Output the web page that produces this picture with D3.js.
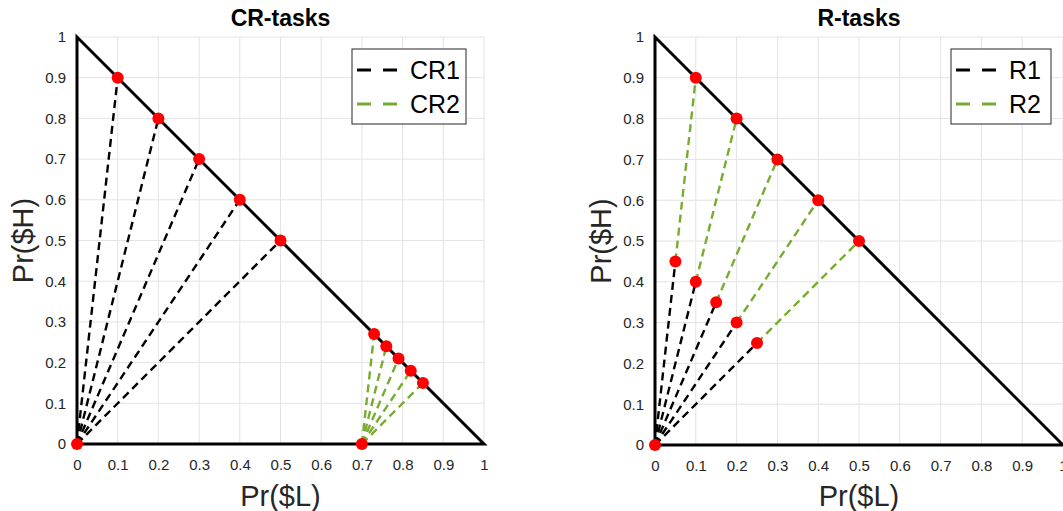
<!DOCTYPE html>
<html>
<head>
<meta charset="utf-8">
<script src="https://cdn.jsdelivr.net/npm/d3@7"></script>
<style>
  html, body { margin: 0; padding: 0; background: #fff; overflow: hidden; }
  svg { display: block; font-family: "Liberation Sans", Arial, sans-serif; }
  .tick text { font-size: 15px; }
</style>
</head>
<body>
<svg id="chart" width="1063" height="511"></svg>
<script>
// ---- data -------------------------------------------------------------
const tickValues = [0, 0.1, 0.2, 0.3, 0.4, 0.5, 0.6, 0.7, 0.8, 0.9, 1];
const tickLabels = ["0", "0.1", "0.2", "0.3", "0.4", "0.5", "0.6", "0.7", "0.8", "0.9", "1"];

// simplex boundary: (0,0) -> (0,1) -> (1,0) -> (0,0)
const simplexL = [0, 0, 1, 0];
const simplexH = [0, 1, 0, 0];

// CR-tasks
const crSafeL  = [0.1, 0.2, 0.3, 0.4, 0.5];
const crSafeH  = [0.9, 0.8, 0.7, 0.6, 0.5];
const cr1OriginL = 0, cr1OriginH = 0;
const cr2OriginL = 0.7, cr2OriginH = 0;
const cr2EndL  = [0.73, 0.76, 0.79, 0.82, 0.85];
const cr2EndH  = [0.27, 0.24, 0.21, 0.18, 0.15];

// R-tasks
const rTopL = [0.1, 0.2, 0.3, 0.4, 0.5];
const rTopH = [0.9, 0.8, 0.7, 0.6, 0.5];
const rMidL = [0.05, 0.10, 0.15, 0.20, 0.25];
const rMidH = [0.45, 0.40, 0.35, 0.30, 0.25];
const r1OriginL = 0, r1OriginH = 0;

const seriesNames = { cr: ["CR1", "CR2"], r: ["R1", "R2"] };
const titles = ["CR-tasks", "R-tasks"];

// ---- styling ----------------------------------------------------------
const BLACK = "#000000";
const GREEN = "#77AC30";
const RED = "#FF0000";
const GRID = "#e3e3e3";
const TICK_TEXT = "#262626";
const DASH = "8,5";

const svg = d3.select("#chart");

function panel(opts) {
  const g = svg.append("g");
  const x = d3.scaleLinear().domain([0, 1]).range([opts.left, opts.left + opts.size]);
  const y = d3.scaleLinear().domain([0, 1]).range([opts.top + opts.size, opts.top]);

  // grid
  g.append("g").selectAll("line").data(tickValues).join("line")
    .attr("x1", d => x(d)).attr("x2", d => x(d))
    .attr("y1", y(0)).attr("y2", y(1))
    .attr("stroke", GRID).attr("stroke-width", 1);
  g.append("g").selectAll("line").data(tickValues).join("line")
    .attr("y1", d => y(d)).attr("y2", d => y(d))
    .attr("x1", x(0)).attr("x2", x(1))
    .attr("stroke", GRID).attr("stroke-width", 1);

  // axes (labels only, the simplex edges act as axis lines)
  const fmt = d => tickLabels[tickValues.indexOf(d)];
  const xAxis = g.append("g").attr("transform", `translate(0,${y(0)})`)
    .call(d3.axisBottom(x).tickValues(tickValues).tickFormat(fmt).tickSize(0).tickPadding(15));
  const yAxis = g.append("g").attr("transform", `translate(${x(0)},0)`)
    .call(d3.axisLeft(y).tickValues(tickValues).tickFormat(fmt).tickSize(0).tickPadding(11));
  [xAxis, yAxis].forEach(a => {
    a.attr("font-size", 15).attr("font-family", "'Liberation Sans', Arial, sans-serif");
    a.select(".domain").remove();
    a.selectAll("text").attr("fill", TICK_TEXT);
  });

  // simplex triangle
  const line = d3.line().x(d => x(d[0])).y(d => y(d[1]));
  g.append("path")
    .attr("d", line(simplexL.map((v, i) => [v, simplexH[i]])))
    .attr("fill", "none").attr("stroke", BLACK).attr("stroke-width", 3)
    .attr("stroke-linejoin", "miter");

  // dashed segments
  opts.segments.forEach(s => {
    g.append("line")
      .attr("x1", x(s.from[0])).attr("y1", y(s.from[1]))
      .attr("x2", x(s.to[0])).attr("y2", y(s.to[1]))
      .attr("stroke", s.color).attr("stroke-width", 2.4)
      .attr("stroke-dasharray", DASH);
  });

  // points
  g.append("g").selectAll("circle").data(opts.points).join("circle")
    .attr("cx", d => x(d[0])).attr("cy", d => y(d[1])).attr("r", 6)
    .attr("fill", RED);

  // title
  g.append("text").attr("x", (x(0) + x(1)) / 2).attr("y", 26)
    .attr("text-anchor", "middle").style("font-weight", "bold").style("font-size", "23px")
    .attr("fill", BLACK).text(opts.title);

  // axis titles
  g.append("text").attr("x", (x(0) + x(1)) / 2).attr("y", 506)
    .attr("text-anchor", "middle").style("font-size", "29px").attr("fill", TICK_TEXT)
    .text("Pr($L)");
  g.append("text")
    .attr("transform", `translate(${x(0) - 44},${(y(0) + y(1)) / 2}) rotate(-90)`)
    .attr("text-anchor", "middle").style("font-size", "29px").attr("fill", TICK_TEXT)
    .text("Pr($H)");

  // legend
  const lg = opts.legend;
  g.append("rect").attr("x", lg.x).attr("y", lg.y).attr("width", lg.w).attr("height", lg.h)
    .attr("fill", "#fff").attr("stroke", "#262626").attr("stroke-width", 1);
  lg.items.forEach((it, i) => {
    const cy = lg.y + 21 + i * 34;
    g.append("line").attr("x1", lg.x + 5).attr("x2", lg.x + 46)
      .attr("y1", cy).attr("y2", cy)
      .attr("stroke", it.color).attr("stroke-width", 3).attr("stroke-dasharray", "14,12");
    g.append("text").attr("x", lg.x + 58).attr("y", cy + 9)
      .style("font-size", "25px").attr("fill", BLACK).text(it.name);
  });
}

// CR-tasks panel
const crSegments = [];
crSafeL.forEach((v, i) => crSegments.push({ from: [cr1OriginL, cr1OriginH], to: [v, crSafeH[i]], color: BLACK }));
cr2EndL.forEach((v, i) => crSegments.push({ from: [cr2OriginL, cr2OriginH], to: [v, cr2EndH[i]], color: GREEN }));
const crPoints = [[cr1OriginL, cr1OriginH], [cr2OriginL, cr2OriginH]]
  .concat(crSafeL.map((v, i) => [v, crSafeH[i]]))
  .concat(cr2EndL.map((v, i) => [v, cr2EndH[i]]));

panel({
  left: 77, top: 37, size: 407, title: titles[0],
  segments: crSegments, points: crPoints,
  legend: { x: 352, y: 49, w: 114, h: 75,
    items: [{ name: seriesNames.cr[0], color: BLACK }, { name: seriesNames.cr[1], color: GREEN }] }
});

// R-tasks panel
const rSegments = [];
rMidL.forEach((v, i) => rSegments.push({ from: [r1OriginL, r1OriginH], to: [v, rMidH[i]], color: BLACK }));
rMidL.forEach((v, i) => rSegments.push({ from: [v, rMidH[i]], to: [rTopL[i], rTopH[i]], color: GREEN }));
const rPoints = [[r1OriginL, r1OriginH]]
  .concat(rMidL.map((v, i) => [v, rMidH[i]]))
  .concat(rTopL.map((v, i) => [v, rTopH[i]]));

panel({
  left: 655, top: 37, size: 408, title: titles[1],
  segments: rSegments, points: rPoints,
  legend: { x: 951, y: 49, w: 100, h: 75,
    items: [{ name: seriesNames.r[0], color: BLACK }, { name: seriesNames.r[1], color: GREEN }] }
});
</script>
</body>
</html>
